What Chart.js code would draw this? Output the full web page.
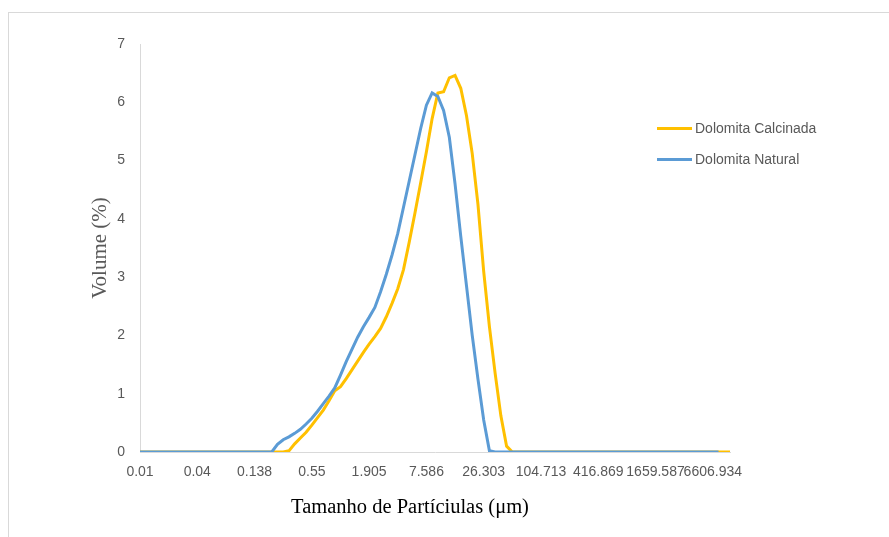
<!DOCTYPE html>
<html>
<head>
<meta charset="utf-8">
<script src="https://cdn.jsdelivr.net/npm/chart.js@4.4.1/dist/chart.umd.min.js"></script>
<style>
    body { margin: 0; background: #fff; }
    #grafico-container { position: absolute; left: 0; top: 0; width: 889px; height: 537px; }
    #moldura { position: absolute; left: 8px; top: 12px; width: 950px; height: 600px; border: 1px solid #d9d9d9; }
    .legenda { position: absolute; left: 657px; font: 14px "Liberation Sans", Arial, sans-serif; color: #595959; white-space: nowrap; }
    .legenda span.linha { display: inline-block; width: 35px; height: 3px; vertical-align: middle; margin-right: 3px; position: relative; top: -1px; }
    #titulo-x { position: absolute; left: 210px; width: 400px; top: 495px; text-align: center; font: 20.5px "Liberation Serif", "Times New Roman", serif; color: #000; white-space: nowrap; }
</style>
</head>
<body>
<div id="moldura"></div>
<div id="grafico-container">
    <canvas id="grafico"></canvas>
</div>
<div class="legenda" style="top: 120px;"><span class="linha" style="background:#FFC000"></span>Dolomita Calcinada</div>
<div class="legenda" style="top: 151px;"><span class="linha" style="background:#5B9BD5"></span>Dolomita Natural</div>
<div id="titulo-x">Tamanho de Partíciulas (μm)</div>

<script>
// classes de tamanho (µm)
const tamanhos = [
    0.01, 0.011, 0.013, 0.015, 0.017, 0.02, 0.023, 0.026, 0.03, 0.035,
    0.04, 0.046, 0.052, 0.06, 0.065, 0.069, 0.079, 0.091, 0.105, 0.12,
    0.138, 0.158, 0.182, 0.209, 0.24, 0.275, 0.316, 0.363, 0.417, 0.479,
    0.55, 0.631, 0.724, 0.832, 0.955, 1.096, 1.259, 1.445, 1.66, 1.78,
    1.905, 2.188, 2.512, 2.884, 3.311, 3.802, 4.365, 5.012, 5.754, 6.607,
    7.586, 8.71, 10, 11.482, 13.183, 15.136, 17.378, 19.953, 22.909, 24.547,
    26.303, 30.2, 34.674, 39.811, 45.709, 52.481, 60.256, 69.183, 79.433, 91.201,
    104.713, 120.226, 138.038, 158.489, 181.97, 208.93, 239.883, 275.423, 316.228, 363.078,
    416.869, 478.63, 549.541, 630.957, 724.436, 831.764, 954.993, 1096.478, 1258.925, 1445.44,
    1659.587, 1905.461, 2187.762, 2511.886, 2884.032, 3311.311, 3801.894, 4365.158, 5011.872, 5754.399,
    6606.934, 7585.776, 8709.636, 10000
];

const volumeCalcinada = [
    0, 0, 0, 0, 0, 0, 0, 0, 0, 0,
    0, 0, 0, 0, 0, 0, 0, 0, 0, 0,
    0, 0, 0, 0, 0, 0, 0.02, 0.14, 0.24, 0.34,
    0.46, 0.59, 0.72, 0.88, 1.05, 1.12, 1.26, 1.41, 1.56, 1.71,
    1.85, 1.98, 2.12, 2.32, 2.55, 2.8, 3.13, 3.6, 4.1, 4.62,
    5.15, 5.72, 6.16, 6.18, 6.42, 6.46, 6.24, 5.77, 5.12, 4.25,
    3.1, 2.15, 1.35, 0.62, 0.1, 0, 0, 0, 0, 0,
    0, 0, 0, 0, 0, 0, 0, 0, 0, 0,
    0, 0, 0, 0, 0, 0, 0, 0, 0, 0,
    0, 0, 0, 0, 0, 0, 0, 0, 0, 0,
    0, 0, 0, 0
];

const volumeNatural = [
    0, 0, 0, 0, 0, 0, 0, 0, 0, 0,
    0, 0, 0, 0, 0, 0, 0, 0, 0, 0,
    0, 0, 0, 0, 0.13, 0.21, 0.26, 0.32, 0.39, 0.48,
    0.58, 0.7, 0.83, 0.96, 1.1, 1.32, 1.55, 1.76, 1.97, 2.15,
    2.31, 2.48, 2.75, 3.05, 3.38, 3.75, 4.2, 4.65, 5.1, 5.55,
    5.95, 6.16, 6.1, 5.86, 5.4, 4.6, 3.7, 2.85, 2.0, 1.25,
    0.55, 0.02, 0, 0, 0, 0, 0, 0, 0, 0,
    0, 0, 0, 0, 0, 0, 0, 0, 0, 0,
    0, 0, 0, 0, 0, 0, 0, 0, 0, 0,
    0, 0, 0, 0, 0, 0, 0, 0, 0, 0,
    0, 0, null, null
];

const marcasY = [0, 1, 2, 3, 4, 5, 6, 7];

const fonteEixo = { family: '"Liberation Sans", Arial, sans-serif', size: 14 };
const fonteTitulo = { family: '"Liberation Serif", "Times New Roman", serif', size: 21 };

const ctx = document.getElementById('grafico').getContext('2d');
new Chart(ctx, {
    type: 'line',
    data: {
        labels: tamanhos,
        datasets: [{
            label: 'Dolomita Calcinada',
            data: volumeCalcinada,
            borderColor: '#FFC000',
            backgroundColor: '#FFC000',
            borderWidth: 3,
            pointRadius: 0,
            tension: 0,
            order: 1
        }, {
            label: 'Dolomita Natural',
            data: volumeNatural,
            borderColor: '#5B9BD5',
            backgroundColor: '#5B9BD5',
            borderWidth: 3,
            pointRadius: 0,
            tension: 0,
            order: 0
        }]
    },
    options: {
        responsive: true,
        maintainAspectRatio: false,
        animation: false,
        layout: { padding: { left: 0, top: 44, right: 159, bottom: 0 } },
        plugins: {
            legend: { display: false },
            tooltip: { enabled: false }
        },
        scales: {
            x: {
                type: 'category',
                offset: false,
                grid: { display: false, drawTicks: false },
                border: { display: true, color: '#d9d9d9', width: 1 },
                ticks: {
                    autoSkip: false,
                    maxRotation: 0,
                    minRotation: 0,
                    padding: 12,
                    color: '#595959',
                    font: fonteEixo,
                    callback: function (valor, indice) {
                        return indice % 10 === 0 ? String(tamanhos[indice]) : '';
                    }
                },
                afterFit: function (escala) { escala.height = 85; }
            },
            y: {
                min: 0,
                max: 7,
                grid: { display: false, drawTicks: false },
                border: { display: true, color: '#d9d9d9', width: 1 },
                afterBuildTicks: function (escala) {
                    escala.ticks = marcasY.map(v => ({ value: v }));
                },
                ticks: {
                    padding: 15,
                    color: '#595959',
                    font: fonteEixo
                },
                title: {
                    display: true,
                    text: 'Volume (%)',
                    color: '#595959',
                    font: fonteTitulo,
                    padding: { top: 88, bottom: 0 }
                },
                afterFit: function (escala) { escala.width = 140; }
            }
        }
    }
});
</script>
</body>
</html>
